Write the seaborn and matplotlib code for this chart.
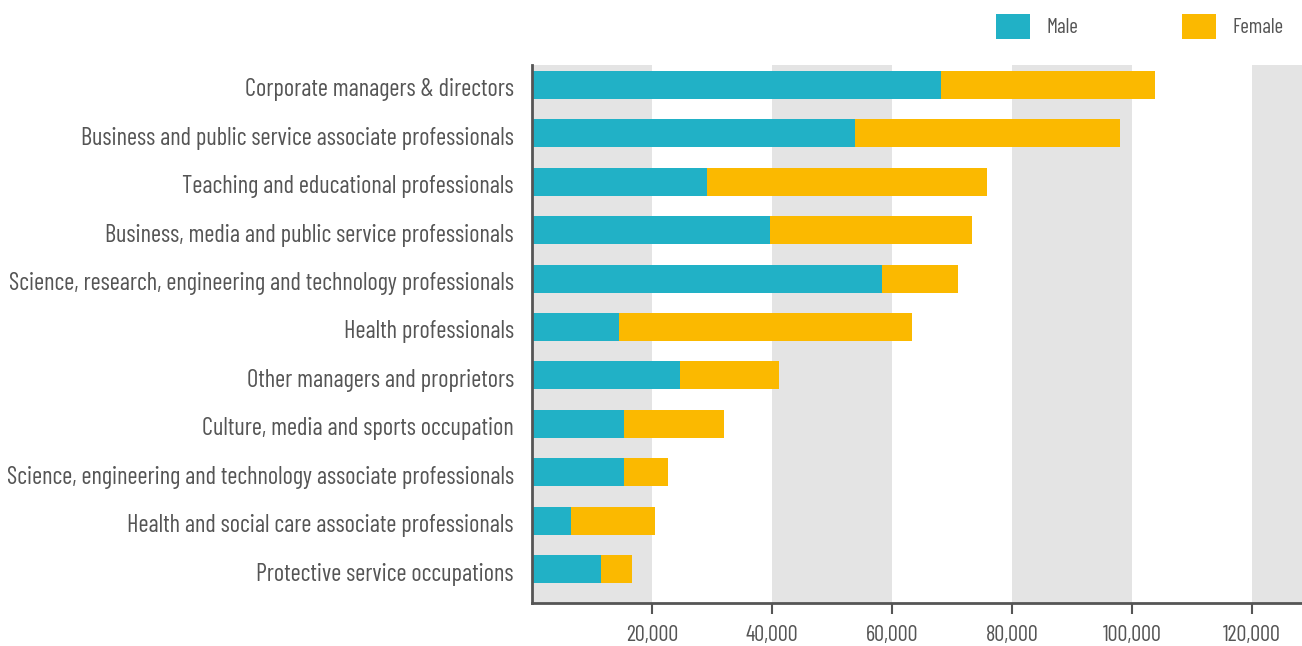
import matplotlib
matplotlib.use("Agg")
import matplotlib.pyplot as plt
from matplotlib.patches import Patch
from matplotlib.ticker import FuncFormatter
from matplotlib.transforms import ScaledTranslation
import seaborn as sns
import pandas as pd

occupations = [
    "Corporate managers & directors",
    "Business and public service associate professionals",
    "Teaching and educational professionals",
    "Business, media and public service professionals",
    "Science, research, engineering and technology professionals",
    "Health professionals",
    "Other managers and proprietors",
    "Culture, media and sports occupation",
    "Science, engineering and technology associate professionals",
    "Health and social care associate professionals",
    "Protective service occupations",
]
male = [68200, 53800, 29200, 39700, 58300, 14500, 24700, 15300, 15300, 6500, 11500]
female = [35600, 44200, 46600, 33600, 12700, 48800, 16500, 16700, 7400, 14000, 5200]
x_ticks = [20000, 40000, 60000, 80000, 100000, 120000]

MALE_C = "#21B1C6"
FEMALE_C = "#FBB900"
BAND_C = "#E4E4E4"
TEXT_C = "#555555"

sns.set_theme(style="white")
plt.rcParams["font.family"] = ["Barlow Condensed", "DejaVu Sans"]

df = pd.DataFrame({"occupation": occupations, "male": male, "female": female})
df["total"] = df["male"] + df["female"]

fig = plt.figure(figsize=(13.02, 6.46), dpi=100)
ax = fig.add_axes([532 / 1302, 1 - 603 / 646, 1 - 532 / 1302, (603 - 65) / 646])

xmax = 128300
# alternating background bands
edges = [0] + x_ticks + [xmax]
for i in range(0, len(edges) - 1, 2):
    ax.axvspan(edges[i], edges[i + 1], color=BAND_C, lw=0, zorder=0)

sns.barplot(data=df, x="total", y="occupation", color=FEMALE_C, width=0.58,
            saturation=1, ax=ax, zorder=2)
sns.barplot(data=df, x="male", y="occupation", color=MALE_C, width=0.58,
            saturation=1, ax=ax, zorder=3)
for p in ax.patches:
    p.set_linewidth(0)

ax.set_xlim(0, xmax)
ax.set_ylim(10.7, -0.41)
ax.set_xlabel("")
ax.set_ylabel("")
ax.set_xticks(x_ticks)
ax.xaxis.set_major_formatter(FuncFormatter(lambda v, _: f"{int(v):,}"))

for s in ["top", "right"]:
    ax.spines[s].set_visible(False)
for s in ["left", "bottom"]:
    ax.spines[s].set_color(TEXT_C)
    ax.spines[s].set_linewidth(2)
    ax.spines[s].set_zorder(5)

ax.tick_params(axis="y", length=0, pad=13, labelsize=17.6, labelcolor=TEXT_C)
ax.tick_params(axis="x", bottom=True, length=8, width=1.5, color=TEXT_C, pad=8,
               labelsize=16, labelcolor=TEXT_C)

# nudge category labels slightly below the bar centres
shift = ScaledTranslation(0, -2.5 / 100, fig.dpi_scale_trans)
for lbl in ax.get_yticklabels():
    lbl.set_transform(lbl.get_transform() + shift)

handles = [Patch(facecolor=MALE_C, edgecolor="none", label="Male"),
           Patch(facecolor=FEMALE_C, edgecolor="none", label="Female")]
fig.legend(handles=handles, loc="upper left", bbox_to_anchor=(994 / 1302, 1 - 12 / 646),
           ncol=2, frameon=False, fontsize=15, labelcolor=TEXT_C,
           handlelength=1.65, handleheight=1.45, handletextpad=0.75, columnspacing=5.0,
           borderaxespad=0, borderpad=0.1)

fig.savefig("out.png", dpi=100)
